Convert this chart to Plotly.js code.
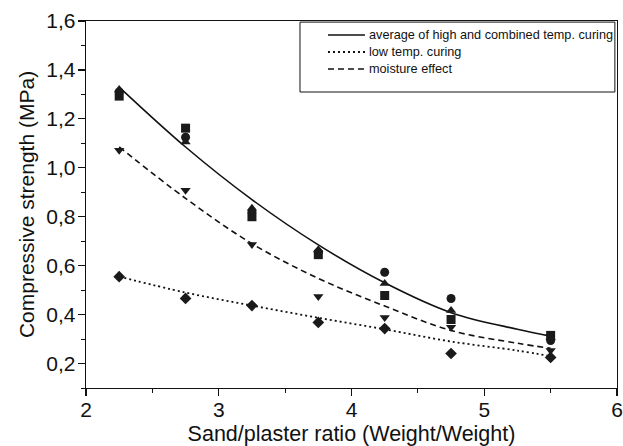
<!DOCTYPE html>
<html><head><meta charset="utf-8">
<script src="https://cdn.plot.ly/plotly-3.0.1.min.js"></script>
<style>html,body{margin:0;padding:0;background:#fff}#chart{width:623px;height:446px}</style>
</head><body><div id="chart"></div>
<script>
// Measured points (x = sand/plaster ratio)
const xPts = [2.25, 2.75, 3.25, 3.75, 4.25, 4.75, 5.5];
const triUp   = [1.32, 1.105, 0.835, 0.665, 0.527, 0.417, 0.305];
const circles = [1.31, 1.125, 0.82, 0.655, 0.573, 0.466, 0.294];
const squares = [1.293, 1.162, 0.80, 0.645, 0.478, 0.38, 0.315];
const triDown = [1.072, 0.908, 0.687, 0.474, 0.388, 0.348, 0.253];
const diamonds= [0.555, 0.466, 0.437, 0.368, 0.343, 0.241, 0.225];

// Fitted curves
const xCurve = [2.25, 2.75, 3.25, 3.75, 4.25, 4.75, 5.25, 5.5];
const avgHighCombined = [1.33, 1.085, 0.87, 0.685, 0.53, 0.408, 0.34, 0.312];
const lowTemp = [0.555, 0.49, 0.437, 0.387, 0.34, 0.29, 0.253, 0.23];
const moisture = [1.085, 0.875, 0.69, 0.548, 0.435, 0.335, 0.283, 0.262];

const legendNames = ["average of high and combined temp. curing", "low temp. curing", "moisture effect"];
const yTicks = [0.2, 0.4, 0.6, 0.8, 1.0, 1.2, 1.4, 1.6];
const xTicks = [2, 3, 4, 5, 6];

const FONT = 'Liberation Sans, Arial, Helvetica, sans-serif';
const INK = '#111';
const lineStyles = [
  {color: INK, width: 1.6},
  {color: INK, width: 1.8, dash: '2px,3px'},
  {color: INK, width: 1.6, dash: '6px,4px'}
];

const mk = (sym) => ({symbol: sym, size: 9, color: '#1a1a1a', line: {width: 0}});
const curveSeries = [avgHighCombined, lowTemp, moisture];
const traces = curveSeries.map((ys, i) => ({
  x: xCurve, y: ys, mode: 'lines', name: legendNames[i], showlegend: false,
  line: Object.assign({shape: 'spline', smoothing: 1}, lineStyles[i])
}));
[['square', squares], ['circle', circles], ['triangle-up', triUp], ['triangle-down', triDown], ['diamond', diamonds]]
  .forEach(([sym, ys]) => traces.push({x: xPts, y: ys, mode: 'markers', marker: mk(sym), showlegend: false}));

const axisCommon = {
  showgrid: false, zeroline: false, showline: true, linecolor: INK, linewidth: 1.3,
  mirror: true, ticks: 'outside', ticklen: 7, tickwidth: 1.2, tickcolor: INK,
  tickfont: {family: FONT, size: 21, color: INK}, automargin: false
};

// Legend drawn in the upper box (paper coordinates)
const legX0 = 0.4557, legX1 = 0.5254, legTextX = 0.5292;
const legY = [0.9619, 0.9155, 0.8692];
const shapes = [{
  type: 'rect', xref: 'paper', yref: 'paper',
  x0: 0.403, x1: 0.996, y0: 0.8065, y1: 0.997,
  line: {color: INK, width: 1}, fillcolor: 'rgba(0,0,0,0)'
}];
const annotations = [];
legendNames.forEach((name, i) => {
  shapes.push({type: 'line', xref: 'paper', yref: 'paper', x0: legX0, x1: legX1, y0: legY[i], y1: legY[i],
    line: lineStyles[i]});
  annotations.push({xref: 'paper', yref: 'paper', x: legTextX, y: legY[i], xanchor: 'left', yanchor: 'middle',
    text: name, showarrow: false, font: {family: FONT, size: 12.7, color: INK}});
});

const layout = {
  width: 623, height: 446,
  margin: {l: 86, r: 6, t: 21, b: 58},
  paper_bgcolor: '#fff', plot_bgcolor: '#fff',
  separators: ',.',
  font: {family: FONT, color: INK},
  xaxis: Object.assign({}, axisCommon, {
    range: [2, 6], tickvals: xTicks, tickformat: 'd', ticklabelstandoff: -5,
    minor: {dtick: 0.5, ticks: 'outside', ticklen: 4, tickwidth: 1, tickcolor: INK},
    title: {text: 'Sand/plaster ratio (Weight/Weight)', font: {family: FONT, size: 21.5, color: INK}, standoff: 12}
  }),
  yaxis: Object.assign({}, axisCommon, {
    range: [0.1, 1.6], tickvals: yTicks, tickformat: '.1f', ticklabelstandoff: -2,
    minor: {dtick: 0.1, ticks: 'outside', ticklen: 4, tickwidth: 1, tickcolor: INK},
    title: {text: 'Compressive strength (MPa)', font: {family: FONT, size: 21, color: INK}, standoff: 6}
  }),
  showlegend: false,
  shapes: shapes,
  annotations: annotations
};

Plotly.newPlot('chart', traces, layout, {staticPlot: true, displayModeBar: false});
</script>
</body></html>
